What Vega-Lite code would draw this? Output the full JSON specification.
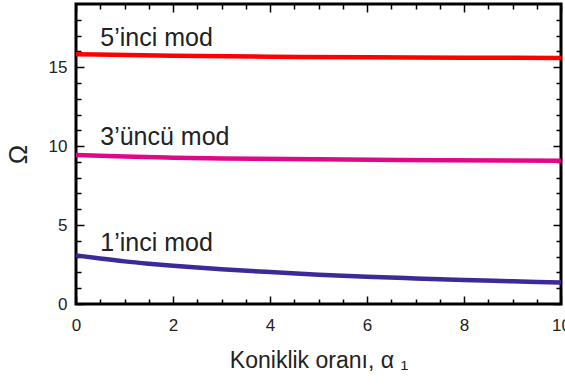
{
  "$schema": "https://vega.github.io/schema/vega-lite/v6.json",
  "autosize": {"type": "none"},
  "padding": {"left": 76, "top": 4, "right": 4, "bottom": 81},
  "width": 485,
  "height": 300,
  "background": "white",
  "view": {"stroke": "black", "strokeWidth": 3},
  "config": {
    "font": "Liberation Sans",
    "axis": {"domain": false, "grid": false, "tickColor": "black", "tickWidth": 1.5, "labelFont": "Liberation Sans", "labelFontSize": 17, "labelColor": "#222", "labelFlush": false, "titleFont": "Liberation Sans", "titleFontWeight": "normal", "titleColor": "#222"}
  },
  "datasets": {
    "curves": [
      {"a": 0, "omega": 3.08, "mode": "1"},
      {"a": 0.5, "omega": 2.88, "mode": "1"},
      {"a": 1, "omega": 2.7, "mode": "1"},
      {"a": 1.5, "omega": 2.55, "mode": "1"},
      {"a": 2, "omega": 2.42, "mode": "1"},
      {"a": 3, "omega": 2.2, "mode": "1"},
      {"a": 4, "omega": 2.02, "mode": "1"},
      {"a": 5, "omega": 1.86, "mode": "1"},
      {"a": 6, "omega": 1.73, "mode": "1"},
      {"a": 7, "omega": 1.62, "mode": "1"},
      {"a": 8, "omega": 1.52, "mode": "1"},
      {"a": 9, "omega": 1.44, "mode": "1"},
      {"a": 10, "omega": 1.36, "mode": "1"},
      {"a": 0, "omega": 9.44, "mode": "3"},
      {"a": 1, "omega": 9.34, "mode": "3"},
      {"a": 2, "omega": 9.27, "mode": "3"},
      {"a": 3, "omega": 9.22, "mode": "3"},
      {"a": 5, "omega": 9.16, "mode": "3"},
      {"a": 7.5, "omega": 9.11, "mode": "3"},
      {"a": 10, "omega": 9.08, "mode": "3"},
      {"a": 0, "omega": 15.82, "mode": "5"},
      {"a": 2, "omega": 15.72, "mode": "5"},
      {"a": 4, "omega": 15.66, "mode": "5"},
      {"a": 6, "omega": 15.62, "mode": "5"},
      {"a": 8, "omega": 15.6, "mode": "5"},
      {"a": 10, "omega": 15.58, "mode": "5"}
    ],
    "labels": [
      {"a": 0.5, "omega": 16.35, "text": "5’inci mod"},
      {"a": 0.5, "omega": 10.07, "text": "3’üncü mod"},
      {"a": 0.5, "omega": 3.38, "text": "1’inci mod"}
    ]
  },
  "resolve": {"axis": {"x": "independent", "y": "independent"}},
  "layer": [
    {
      "data": {"name": "curves"},
      "mark": {"type": "line", "strokeWidth": 4.5, "interpolate": "monotone"},
      "encoding": {
        "x": {"field": "a", "type": "quantitative", "scale": {"domain": [0, 10], "nice": false},
          "axis": {"orient": "bottom", "values": [0, 2, 4, 6, 8, 10], "tickSize": -8, "labelPadding": 21, "title": "Koniklik oranı, α ₁", "titleFontSize": 23, "titlePadding": 16}},
        "y": {"field": "omega", "type": "quantitative", "scale": {"domain": [0, 19], "nice": false},
          "axis": {"orient": "left", "values": [0, 5, 10, 15], "tickSize": -8, "labelPadding": 17, "title": "Ω", "titleFontSize": 26, "titlePadding": 17}},
        "color": {"field": "mode", "type": "nominal", "scale": {"domain": ["1", "3", "5"], "range": ["#3b2a98", "#e0088a", "#ff0000"]}, "legend": null}
      }
    },
    {
      "data": {"name": "labels"},
      "mark": {"type": "text", "align": "left", "baseline": "alphabetic", "fontSize": 25, "color": "#222", "font": "Liberation Sans"},
      "encoding": {
        "x": {"field": "a", "type": "quantitative",
          "axis": {"orient": "bottom", "values": [0.5, 1, 1.5, 2.5, 3, 3.5, 4.5, 5, 5.5, 6.5, 7, 7.5, 8.5, 9, 9.5], "tickSize": -5, "labels": false, "title": null}},
        "y": {"field": "omega", "type": "quantitative",
          "axis": {"orient": "left", "values": [1, 2, 3, 4, 6, 7, 8, 9, 11, 12, 13, 14, 16, 17, 18], "tickSize": -5, "labels": false, "title": null}},
        "text": {"field": "text", "type": "nominal"}
      }
    },
    {
      "data": {"name": "curves"},
      "mark": {"type": "line", "opacity": 0},
      "encoding": {
        "x": {"field": "a", "type": "quantitative",
          "axis": {"orient": "top", "values": [0, 2, 4, 6, 8, 10], "tickSize": -8, "labels": false, "title": null}},
        "y": {"field": "omega", "type": "quantitative",
          "axis": {"orient": "right", "values": [0, 5, 10, 15], "tickSize": -8, "labels": false, "title": null}},
        "detail": {"field": "mode", "type": "nominal"}
      }
    },
    {
      "data": {"name": "curves"},
      "mark": {"type": "line", "opacity": 0},
      "encoding": {
        "x": {"field": "a", "type": "quantitative",
          "axis": {"orient": "top", "values": [0.5, 1, 1.5, 2.5, 3, 3.5, 4.5, 5, 5.5, 6.5, 7, 7.5, 8.5, 9, 9.5], "tickSize": -5, "labels": false, "title": null}},
        "y": {"field": "omega", "type": "quantitative",
          "axis": {"orient": "right", "values": [1, 2, 3, 4, 6, 7, 8, 9, 11, 12, 13, 14, 16, 17, 18], "tickSize": -5, "labels": false, "title": null}},
        "detail": {"field": "mode", "type": "nominal"}
      }
    }
  ]
}
